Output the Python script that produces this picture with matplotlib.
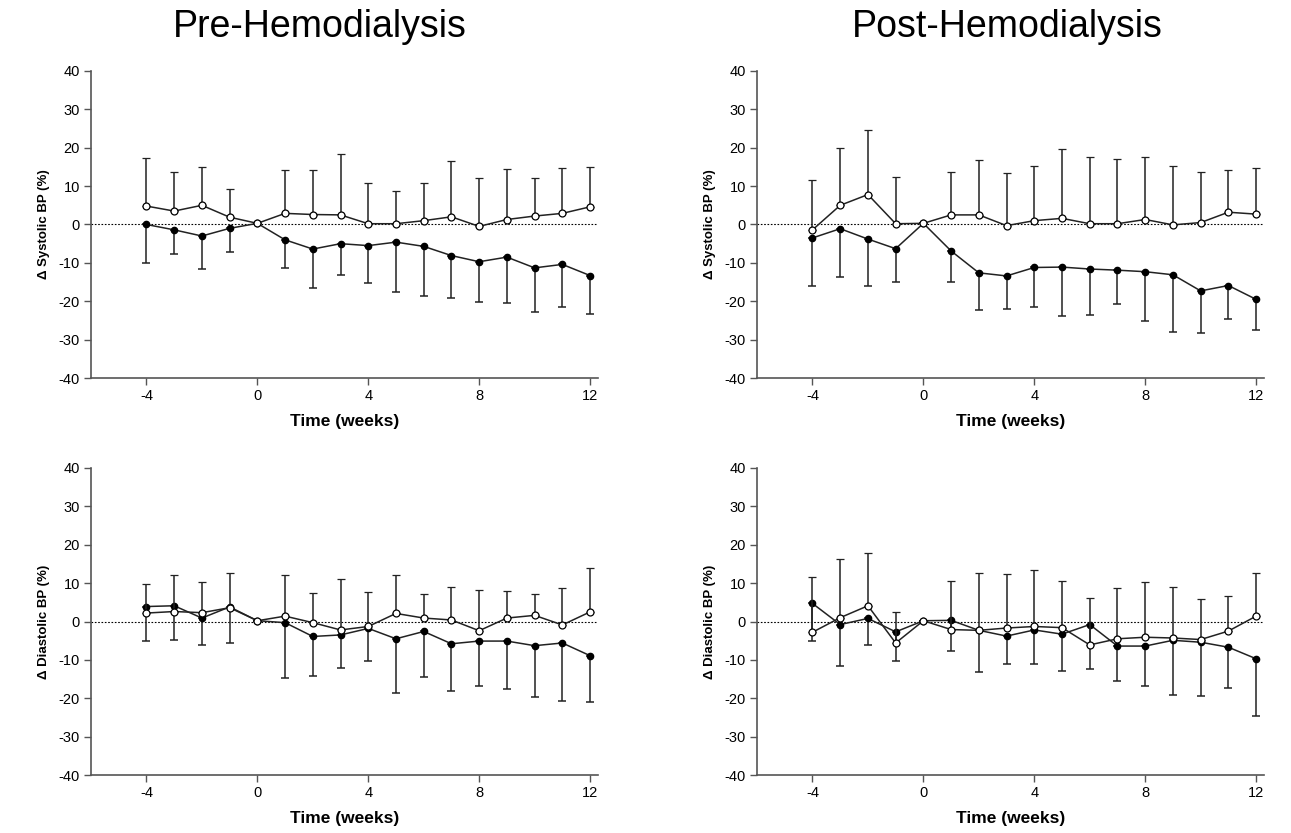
import matplotlib.pyplot as plt
import numpy as np

plt.rcParams['font.family'] = ['Liberation Sans', 'DejaVu Sans']
plt.rcParams['axes.unicode_minus'] = False

weeks = list(range(-4, 13))

# Pre-hemodialysis, systolic
pre_sys_open = [4.8, 3.5, 5.0, 1.9, 0.3, 2.9, 2.6, 2.5, 0.2, 0.2, 1.0, 2.0, -0.5, 1.3, 2.2, 2.9, 4.6]
pre_sys_open_hi = [17.4, 13.8, 14.9, 9.3, 0.3, 14.1, 14.3, 18.3, 10.9, 8.7, 10.9, 16.6, 12.2, 14.4, 12.0, 14.7, 15.1]
pre_sys_fill = [0.0, -1.4, -3.0, -1.0, 0.3, -4.0, -6.4, -5.0, -5.5, -4.6, -5.7, -8.1, -9.7, -8.5, -11.3, -10.4, -13.3]
pre_sys_fill_lo = [-10.0, -7.6, -11.5, -7.1, 0.3, -11.3, -16.6, -13.1, -15.3, -17.5, -18.7, -19.1, -20.2, -20.5, -22.8, -21.4, -23.4]

# Post-hemodialysis, systolic
post_sys_open = [-1.4, 5.0, 7.8, 0.2, 0.3, 2.5, 2.5, -0.3, 1.0, 1.6, 0.2, 0.2, 1.3, -0.1, 0.5, 3.2, 2.7]
post_sys_open_hi = [11.6, 20.0, 24.7, 12.3, 0.3, 13.8, 16.9, 13.5, 15.3, 19.8, 17.7, 17.0, 17.5, 15.3, 13.8, 14.3, 14.6]
post_sys_fill = [-3.5, -1.1, -3.8, -6.3, 0.3, -6.9, -12.6, -13.4, -11.2, -11.1, -11.6, -11.9, -12.3, -13.1, -17.3, -15.9, -19.5]
post_sys_fill_lo = [-16.1, -13.7, -15.9, -14.9, 0.3, -14.9, -22.2, -22.0, -21.5, -23.8, -23.6, -20.7, -25.2, -27.9, -28.2, -24.6, -27.4]

# Pre-hemodialysis, diastolic
pre_dia_open = [2.2, 2.6, 2.3, 3.6, 0.2, 1.4, -0.3, -2.2, -1.3, 2.1, 0.9, 0.4, -2.4, 0.9, 1.6, -0.9, 2.5]
pre_dia_open_hi = [9.7, 12.2, 10.2, 12.7, 0.2, 12.2, 7.5, 11.1, 7.8, 12.1, 7.1, 8.9, 8.2, 7.9, 7.1, 8.7, 13.9]
pre_dia_fill = [3.9, 4.1, 0.9, 3.8, 0.2, -0.3, -3.9, -3.5, -1.8, -4.5, -2.6, -5.8, -5.1, -5.1, -6.3, -5.6, -8.9]
pre_dia_fill_lo = [-5.0, -4.9, -6.1, -5.6, 0.2, -14.8, -14.1, -12.0, -10.4, -18.7, -14.4, -18.0, -16.7, -17.7, -19.8, -20.8, -21.0]

# Post-hemodialysis, diastolic
post_dia_open = [-2.8, 1.0, 4.1, -5.6, 0.2, -2.1, -2.3, -1.7, -1.3, -1.6, -6.1, -4.5, -4.1, -4.3, -4.7, -2.5, 1.4]
post_dia_open_hi = [11.5, 16.2, 17.8, 2.6, 0.2, 10.5, 12.7, 12.5, 13.5, 10.6, 6.0, 8.6, 10.2, 9.0, 5.9, 6.7, 12.7]
post_dia_fill = [4.7, -0.8, 0.8, -2.7, 0.2, 0.3, -2.3, -3.8, -2.2, -3.3, -0.8, -6.4, -6.4, -4.9, -5.4, -6.7, -9.7]
post_dia_fill_lo = [-5.0, -11.5, -6.2, -10.3, 0.2, -7.8, -13.2, -11.1, -11.2, -12.9, -12.3, -15.4, -16.7, -19.2, -19.3, -17.2, -24.5]

titles = ['Pre-Hemodialysis', 'Post-Hemodialysis']
ylabels = ['\u0394 Systolic BP (%)', '\u0394 Diastolic BP (%)']

panels = [
    (pre_sys_open, pre_sys_open_hi, pre_sys_fill, pre_sys_fill_lo),
    (post_sys_open, post_sys_open_hi, post_sys_fill, post_sys_fill_lo),
    (pre_dia_open, pre_dia_open_hi, pre_dia_fill, pre_dia_fill_lo),
    (post_dia_open, post_dia_open_hi, post_dia_fill, post_dia_fill_lo),
]

fig = plt.figure(figsize=(12.91, 8.33), dpi=100)
lefts = [0.0705, 0.5864]
bottoms = [0.5462, 0.0696]
line_col = '#222222'
spine_col = '#555555'

for k, (op, op_hi, fl, fl_lo) in enumerate(panels):
    row, col = divmod(k, 2)
    ax = fig.add_axes([lefts[col], bottoms[row], 0.393, 0.3686])
    x = np.array(weeks)
    op, op_hi, fl, fl_lo = map(np.array, (op, op_hi, fl, fl_lo))

    ax.axhline(0, color='black', lw=0.8, ls=(0, (1.5, 1.5)), zorder=1)

    # filled circles, lower error only
    ax.errorbar(x, fl, yerr=[fl - fl_lo, np.zeros_like(fl)], color=line_col, lw=1.1,
                elinewidth=1.1, capsize=3, capthick=1.1, marker='o', ms=4.5,
                mfc='black', mec='black', zorder=3)
    # open circles, upper error only
    ax.errorbar(x, op, yerr=[np.zeros_like(op), op_hi - op], color=line_col, lw=1.1,
                elinewidth=1.1, capsize=3, capthick=1.1, marker='o', ms=5,
                mfc='white', mec='black', mew=0.9, zorder=4)

    ax.set_xlim(-6, 12.3)
    ax.set_ylim(-40, 40)
    ax.set_xticks([-4, 0, 4, 8, 12])
    ax.set_yticks(range(-40, 41, 10))
    ax.spines['top'].set_visible(False)
    ax.spines['right'].set_visible(False)
    for s in ('left', 'bottom'):
        ax.spines[s].set_color(spine_col)
        ax.spines[s].set_linewidth(1.2)
    ax.tick_params(direction='out', length=5, width=1, color=spine_col, labelsize=10.5, pad=3)
    ax.set_xlabel('Time (weeks)', fontsize=12.5, fontweight='bold', labelpad=8)
    ax.set_ylabel(ylabels[row], fontsize=9.5, fontweight='bold', labelpad=6)

fig.text(0.248, 0.968, titles[0], ha='center', va='center', fontsize=27)
fig.text(0.78, 0.968, titles[1], ha='center', va='center', fontsize=27)

fig.savefig('out.png', dpi=100)
